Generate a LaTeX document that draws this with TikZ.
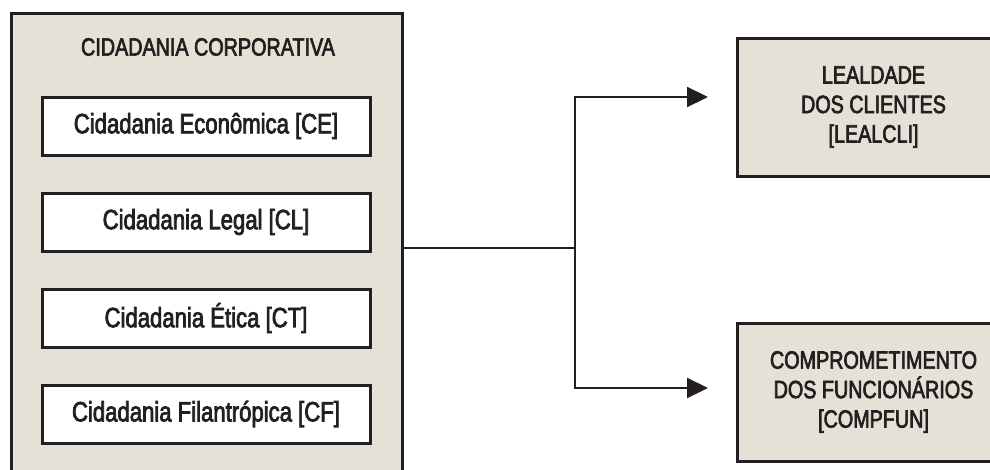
\documentclass[tikz,border=0pt]{standalone}
\usepackage{fontspec}
\setmainfont{Liberation Sans}[FakeStretch=0.79, FakeBold=2.6]
\usetikzlibrary{arrows.meta}
\definecolor{boxfill}{HTML}{E4E1D6}
\definecolor{ink}{HTML}{231F20}
\tikzset{
  outerbox/.style={draw=ink, fill=boxfill, line width=3pt, inner sep=0pt},
  innerbox/.style={draw=ink, fill=white, line width=3pt, minimum width=328pt, minimum height=58pt, inner sep=0pt, text=ink, font=\fontsize{28}{32}\selectfont},
  capstext/.style={text=ink, font=\fontsize{25}{29.5}\selectfont, align=center},
  conn/.style={draw=ink, line width=2.2pt},
  arr/.style={conn, -{Triangle[length=21pt,width=20pt]}}
}
\begin{document}
\begin{tikzpicture}[x=1pt,y=-1pt]
\useasboundingbox (0,0) rectangle (990,469);
% left container
\node[outerbox, minimum width=391pt, minimum height=470pt] (big) at (206.5,248) {};
\node[capstext] (title) at (208,47) {CIDADANIA CORPORATIVA};
\node[innerbox] (ce) at (206,126) {Cidadania Econômica [CE]};
\node[innerbox] (cl) at (206,222) {Cidadania Legal [CL]};
\node[innerbox] (ct) at (206,318) {Cidadania Ética [CT]};
\node[innerbox] (cf) at (206,414) {Cidadania Filantrópica [CF]};
% right boxes
\node[outerbox, minimum width=273pt, minimum height=138pt, capstext] (leal) at (873.5,107) {LEALDADE\\DOS CLIENTES\\{[LEALCLI]}};
\node[outerbox, minimum width=273pt, minimum height=138pt, capstext] (comp) at (873.5,392) {COMPROMETIMENTO\\DOS FUNCIONÁRIOS\\{[COMPFUN]}};
% connectors
\coordinate (j) at (575,248);
\coordinate (a1) at (708,97);
\coordinate (a2) at (708,388);
\draw[conn] (big.east) -- (j);
\draw[arr] (j) |- (a1);
\draw[arr] (j) |- (a2);
\end{tikzpicture}
\end{document}
